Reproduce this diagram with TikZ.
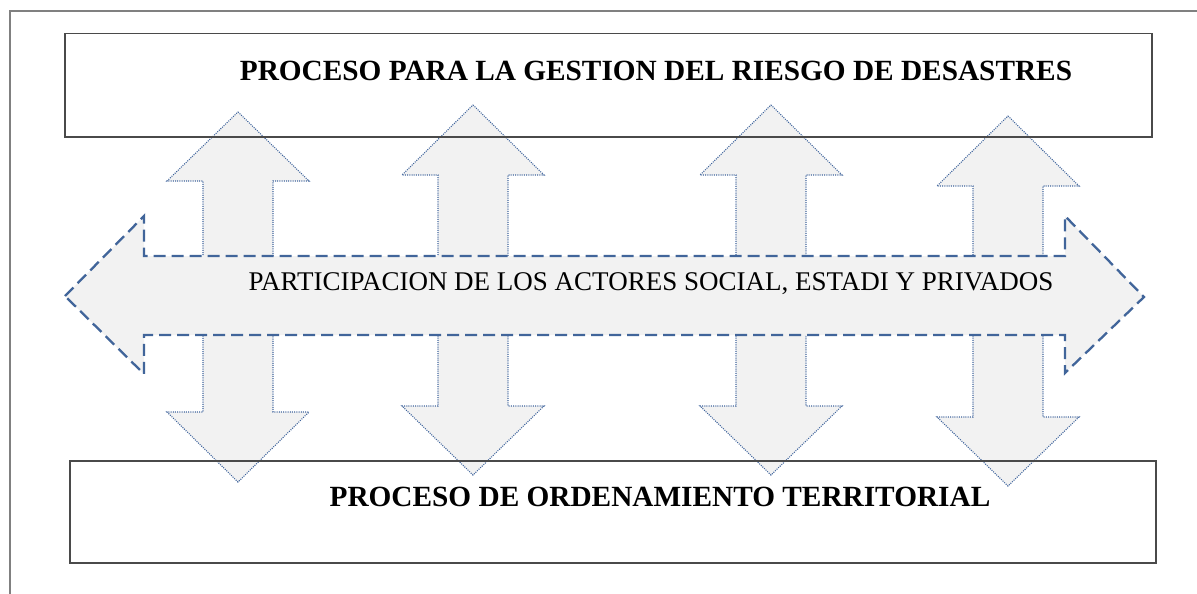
\documentclass[tikz,border=0pt]{standalone}
\usepackage{fontspec}
\setmainfont{Liberation Serif}
\definecolor{arrfill}{HTML}{F2F2F2}
\definecolor{dashblue}{HTML}{41659A}
\definecolor{dotblue}{HTML}{3F649C}
\definecolor{boxgray}{HTML}{4A4A4A}
\begin{document}
\begin{tikzpicture}[x=1pt,y=-1pt,
  varrow/.style={fill=arrfill,draw=dotblue,line width=1.1pt,dash pattern=on 1pt off 1.2pt},
  harrow/.style={fill=arrfill,draw=dashblue,line width=2.3pt,dash pattern=on 12pt off 6pt},
  procbox/.style={draw=boxgray,line width=1.5pt},
  frameline/.style={draw=gray,line width=1.2pt},
  boldtxt/.style={font=\bfseries\fontsize{29.3}{34}\selectfont,inner sep=0pt},
  midtxt/.style={font=\fontsize{27}{31}\selectfont,inner sep=0pt}]
\useasboundingbox (0,0) rectangle (1197,594);
% outer frame (top and left only visible)
\draw[frameline] (10,594) -- (10,11) -- (1197,11);
% vertical double arrows
\foreach \cx/\tu/\bu/\bd/\td in {238/112/181/412/482, 473/105/175/406/475, 771/105/175/406/475, 1008/116/186/417/486}{
  \draw[varrow] (\cx,\tu) -- ({\cx+71},\bu) -- ({\cx+35},\bu) -- ({\cx+35},\bd) -- ({\cx+71},\bd)
    -- (\cx,\td) -- ({\cx-71},\bd) -- ({\cx-35},\bd) -- ({\cx-35},\bu) -- ({\cx-71},\bu) -- cycle;
}
% horizontal double arrow
\draw[harrow] (65,296) -- (144,216) -- (144,256) -- (1065,256) -- (1065,216) -- (1144,297)
  -- (1065,373) -- (1065,335) -- (144,335) -- (144,374) -- cycle;
% boxes
\node[procbox,minimum width=1087pt,minimum height=103pt,inner sep=0pt,anchor=north west] (top) at (64,33) {};
\node[procbox,minimum width=1086pt,minimum height=102pt,inner sep=0pt,anchor=north west] (bot) at (69,460) {};
% texts
\node[boldtxt] (toptxt) at (656,71) {PROCESO PARA LA GESTION DEL RIESGO DE DESASTRES};
\node[midtxt] (midtxt) at (651,284) {PARTICIPACION DE LOS ACTORES SOCIAL, ESTADI Y PRIVADOS};
\node[boldtxt] (bottxt) at (660,497) {PROCESO DE ORDENAMIENTO TERRITORIAL};
\end{tikzpicture}
\end{document}
